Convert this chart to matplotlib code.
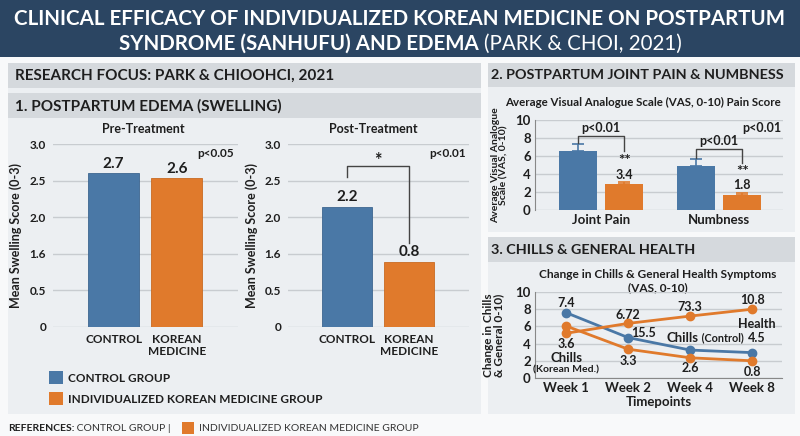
import numpy as np
import matplotlib.pyplot as plt
from matplotlib.patches import Rectangle

plt.rcParams['font.family'] = ['Lato', 'DejaVu Sans']

# ---- data ----
groups = ['CONTROL', 'KOREAN\nMEDICINE']
pre_vals = [2.52, 2.44]
pre_labels = ['2.7', '2.6']
post_vals = [1.97, 1.07]
post_labels = ['2.2', '0.8']
swell_ticks = [0, 0.6, 1.2, 1.8, 2.4, 3.0]
swell_ticklabels = ['0', '0.5', '1.6', '2.0', '2.5', '3.0']

pain_cats = ['Joint Pain', 'Numbness']
pain_ctrl = [6.55, 4.9]
pain_ctrl_err = [0.75, 0.8]
pain_km = [2.85, 1.67]
pain_km_err = [0.3, 0.18]
pain_km_labels = ['3.4', '1.8']

weeks = ['Week 1', 'Week 2', 'Week 4', 'Week 8']
chills_ctrl = [7.6, 4.7, 3.25, 2.95]
health_km = [5.2, 6.35, 7.2, 8.0]
chills_km = [6.05, 3.35, 2.35, 2.0]
chills_ctrl_labels = ['7.4', '15.5', '', '4.5']
health_labels = ['3.6', '6.72', '73.3', '10.8']
chills_km_labels = ['', '3.3', '2.6', '0.8']

# colours
navy = '#2b4562'
header = '#d5d9dd'
panel = '#eceff2'
blue = '#4a78a6'
orange = '#e07a2c'
dark = '#1e1e1e'

W, H = 800, 436
fig = plt.figure(figsize=(W / 100, H / 100), dpi=100)
fig.patch.set_facecolor('#f8f9fa')


def px(x0, y0, x1, y1):
    # pixel box (top-left origin) -> figure fraction rect
    return [x0 / W, 1 - y1 / H, (x1 - x0) / W, (y1 - y0) / H]


bg = fig.add_axes([0, 0, 1, 1])
bg.set_xlim(0, W)
bg.set_ylim(H, 0)
bg.axis('off')


def box(x0, y0, x1, y1, color):
    bg.add_patch(Rectangle((x0, y0), x1 - x0, y1 - y0, color=color, lw=0))


box(0, 0, W, 57, navy)
box(8, 63, 481, 414, panel)
box(8, 63, 481, 88, header)
box(8, 93, 481, 118, header)
box(488, 63, 795, 232, panel)
box(488, 63, 795, 87, header)
box(488, 237, 795, 414, panel)
box(488, 237, 795, 262, header)

r = fig.canvas.get_renderer()

# title
bg.text(400, 19, 'CLINICAL EFFICACY OF INDIVIDUALIZED KOREAN MEDICINE ON POSTPARTUM',
        ha='center', va='center', color='white', fontsize=14.8, weight='bold')
t1 = bg.text(0, 44, 'SYNDROME (SANHUFU) AND EDEMA', ha='left', va='center',
             color='white', fontsize=14.8, weight='bold')
t2 = bg.text(0, 44, '(PARK & CHOI, 2021)', ha='left', va='center',
             color='white', fontsize=14.8, weight='normal')
w1 = t1.get_window_extent(r).width
w2 = t2.get_window_extent(r).width
x0 = 400 - (w1 + w2 + 5) / 2
t1.set_x(x0)
t2.set_x(x0 + w1 + 5)

# section headers
hd = dict(ha='left', va='center', fontsize=11, weight='bold', color=dark)
bg.text(15, 76, 'RESEARCH FOCUS: PARK & CHIOOHCI, 2021', **hd)
bg.text(15, 106, '1. POSTPARTUM EDEMA (SWELLING)', **hd)
hd['fontsize'] = 10.4
bg.text(491, 75, '2. POSTPARTUM JOINT PAIN & NUMBNESS', **hd)
bg.text(491, 250, '3. CHILLS & GENERAL HEALTH', **hd)


# ---- 1. edema bars ----
def edema(rect, vals, labels, title, title_x, ptxt, p_x, lab_x):
    ax = fig.add_axes(rect)
    ax.set_facecolor('none')
    x = np.arange(len(groups))
    ax.bar(x, vals, width=0.81, color=[blue, orange], edgecolor=['#3d6690', '#c96a22'],
           lw=0.6, zorder=3)
    ax.set_ylim(0, 3)
    ax.set_xlim(-0.96, 1.97)
    ax.set_yticks(swell_ticks, swell_ticklabels)
    ax.set_xticks(x, groups)
    ax.grid(axis='y', color='#c8ccd0', lw=1)
    for s in ax.spines.values():
        s.set_visible(False)
    ax.tick_params(length=0, labelsize=8.5, pad=5, colors=dark)
    for lbl in ax.get_xticklabels() + ax.get_yticklabels():
        lbl.set_fontweight('bold')
    for xi, v, l in zip(x, vals, labels):
        ax.annotate(l, (xi, v), xytext=(0, 2), textcoords='offset points',
                    ha='center', va='bottom', fontsize=11, weight='bold', color=dark)
    ax.set_ylabel('Mean Swelling Score (0-3)', fontsize=9, weight='bold', color=dark)
    ax.yaxis.set_label_coords(lab_x, 0.5)
    bg.text(title_x, 129, title, ha='center', va='center', fontsize=9, weight='bold', color=dark)
    bg.text(p_x, 153, ptxt, ha='center', va='center', fontsize=8.5, weight='bold', color=dark)
    return ax


edema(px(53, 144.3, 238, 326.7), pre_vals, pre_labels, 'Pre-Treatment', 143, 'p<0.05', 216, -0.17)
axp = edema(px(288, 144.3, 469, 326.7), post_vals, post_labels, 'Post-Treatment', 373, 'p<0.01',
            448, -0.165)
axp.plot([0, 0, 1, 1], [post_vals[0] + 0.49, 2.64, 2.64, post_vals[1] + 0.31],
         color='#444444', lw=1, zorder=4)
axp.text(0.5, 2.74, '*', ha='center', va='center', fontsize=13, weight='bold', color=dark)

# legend
box(49, 371, 63, 384, blue)
box(49, 392, 63, 405, orange)
bg.text(68, 378, 'CONTROL GROUP', ha='left', va='center', fontsize=8.5, weight='bold', color=dark)
bg.text(68, 399, 'INDIVIDUALIZED KOREAN MEDICINE GROUP', ha='left', va='center', fontsize=8.5,
        weight='bold', color=dark)

# references line
rf = bg.text(8, 428, 'REFERENCES:', ha='left', va='center', fontsize=7.5, weight='bold',
             color=dark)
rc = bg.annotate(' CONTROL GROUP |', xy=(1, 0.5), xycoords=rf, ha='left', va='center',
                 fontsize=7.5, color='#333333')
rfw = rf.get_window_extent(r).width + rc.get_window_extent(r).width + 8
box(8 + rfw + 3, 422, 8 + rfw + 15, 434, orange)
bg.text(8 + rfw + 20, 428, 'INDIVIDUALIZED KOREAN MEDICINE GROUP', ha='left', va='center',
        fontsize=7.5, color='#333333')

# ---- 2. joint pain & numbness ----
bg.text(643, 102, 'Average Visual Analogue Scale (VAS, 0-10) Pain Score', ha='center',
        va='center', fontsize=8.3, weight='bold', color=dark)
ax2 = fig.add_axes(px(535, 120, 783, 210))
ax2.set_facecolor('none')
gx = np.arange(len(pain_cats))
off, bw = 0.195, 0.32
ax2.bar(gx - off, pain_ctrl, bw, color=blue, zorder=3)
ax2.bar(gx + off, pain_km, bw, color=orange, zorder=3)
ax2.errorbar(gx - off, pain_ctrl, yerr=[np.zeros(2), pain_ctrl_err], fmt='none', ecolor=blue,
             capsize=4, elinewidth=1.2, capthick=1.2, zorder=4)
ax2.errorbar(gx + off, pain_km, yerr=[np.zeros(2), pain_km_err], fmt='none', ecolor=orange,
             capsize=4, elinewidth=1.2, capthick=1.2, zorder=4)
ax2.set_ylim(0, 10)
ax2.set_xlim(-0.56, 1.54)
ax2.set_yticks(range(0, 11, 2))
ax2.set_xticks(gx, pain_cats)
ax2.grid(axis='y', color='#c8ccd0', lw=1)
for s in ['top', 'right', 'bottom']:
    ax2.spines[s].set_visible(False)
ax2.spines['left'].set_color('#888888')
ax2.tick_params(length=0, labelsize=9.5, pad=3, colors=dark)
for lbl in ax2.get_xticklabels() + ax2.get_yticklabels():
    lbl.set_fontweight('bold')
ax2.set_ylabel('Average Visual Analogue\nScale (VAS, 0-10)', fontsize=7.5, weight='bold',
               color=dark, linespacing=0.95)
ax2.yaxis.set_label_coords(-0.105, 0.5)
# significance brackets
ax2.plot([-off, -off, off, off], [7.4, 8.2, 8.2, 6.6], color='#444444', lw=1, zorder=4)
ax2.plot([1 - off, 1 - off, 1 + off, 1 + off], [5.8, 6.8, 6.8, 5.2], color='#444444', lw=1,
         zorder=4)
pk = dict(ha='center', va='center', fontsize=9, weight='bold', color=dark)
ax2.text(0, 9.1, 'p<0.01', **pk)
ax2.text(1, 7.7, 'p<0.01', **pk)
ax2.text(1.36, 9.1, 'p<0.01', **pk)
for xi, v, l in zip(gx + off, pain_km, pain_km_labels):
    ax2.annotate(l, (xi, v), xytext=(0, 7), textcoords='offset points', ha='center',
                 va='center', fontsize=9, weight='bold', color=dark)
    ax2.annotate('**', (xi, v), xytext=(0, 16.5), textcoords='offset points', ha='center',
                 va='center', fontsize=11, weight='bold', color=dark)

# ---- 3. chills & general health ----
bg.text(658, 274, 'Change in Chills & General Health Symptoms', ha='center', va='center',
        fontsize=8.6, weight='bold', color=dark)
bg.text(658, 288, '(VAS, 0-10)', ha='center', va='center', fontsize=8.6, weight='bold', color=dark)
ax3 = fig.add_axes(px(535, 292, 782, 378))
ax3.set_facecolor('none')
xw = np.arange(len(weeks))
ax3.plot(xw, chills_ctrl, '-o', color=blue, lw=2, ms=6, zorder=4)
ax3.plot(xw, health_km, '-o', color=orange, lw=2, ms=6, zorder=4)
ax3.plot(xw, chills_km, '-o', color=orange, lw=2, ms=6, zorder=4)
ax3.set_ylim(0, 10)
ax3.set_xlim(-0.5, 3.48)
ax3.set_yticks(range(0, 11, 2))
ax3.set_xticks(xw, weeks)
ax3.grid(axis='y', color='#c8ccd0', lw=1)
for s in ['top', 'right']:
    ax3.spines[s].set_visible(False)
ax3.spines['left'].set_color('#888888')
ax3.spines['bottom'].set_color('#888888')
ax3.tick_params(length=0, labelsize=9.5, pad=3, colors=dark)
for lbl in ax3.get_xticklabels() + ax3.get_yticklabels():
    lbl.set_fontweight('bold')
ax3.set_xlabel('Timepoints', fontsize=9.5, weight='bold', color=dark, labelpad=1)
ax3.set_ylabel('Change in Chills\n& General 0-10)', fontsize=8.5, weight='bold', color=dark,
               linespacing=0.95)
ax3.yaxis.set_label_coords(-0.125, 0.5)

lab = dict(textcoords='offset points', ha='center', va='center', fontsize=9, weight='bold',
           color=dark)
ctrl_off = [(0, 7), (11, 3.4), (0, 0), (3, 10.6)]
health_off = [(0, -7.7), (0, 6), (0, 6.5), (0, 6.7)]
km_off = [(0, 0), (0, -8.4), (0, -7.4), (0, -8)]
for i in range(len(weeks)):
    if chills_ctrl_labels[i]:
        ax3.annotate(chills_ctrl_labels[i], (xw[i], chills_ctrl[i]), xytext=ctrl_off[i], **lab)
    if health_labels[i]:
        ax3.annotate(health_labels[i], (xw[i], health_km[i]), xytext=health_off[i], **lab)
    if chills_km_labels[i]:
        ax3.annotate(chills_km_labels[i], (xw[i], chills_km[i]), xytext=km_off[i], **lab)

ax3.annotate('Health', (xw[3], health_km[3]), xytext=(3, -10.6), **lab)
c1 = ax3.annotate('Chills', (xw[2], chills_ctrl[2]), xytext=(-17, 8.6), textcoords='offset points',
                  ha='left', va='center', fontsize=9.5, weight='bold', color=dark)
ax3.annotate(' (Control)', xy=(1, 0.5), xycoords=c1, ha='left', va='center', fontsize=7.8,
             weight='bold', color=dark)
ax3.annotate('Chills', (xw[0], chills_km[0]), xytext=(0, -23), textcoords='offset points',
             ha='center', va='center', fontsize=9.5, weight='bold', color=dark)
ax3.annotate('(Korean Med.)', (xw[0], chills_km[0]), xytext=(0, -31.7), textcoords='offset points',
             ha='center', va='center', fontsize=7.5, weight='bold', color=dark)

fig.savefig('out.png', dpi=100, facecolor=fig.get_facecolor())
